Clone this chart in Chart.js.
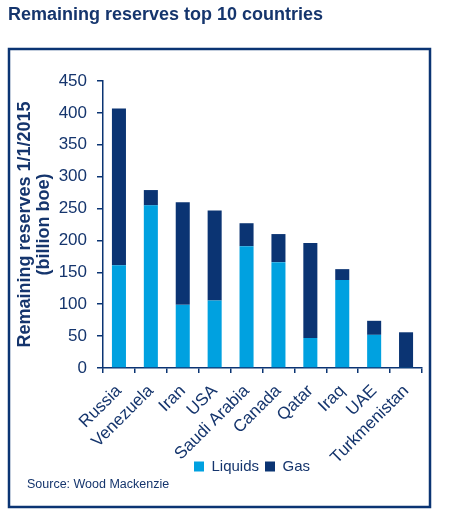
<!DOCTYPE html>
<html>
<head>
<meta charset="utf-8">
<script src="https://cdn.jsdelivr.net/npm/chart.js@4/dist/chart.umd.min.js"></script>
<style>
  body { margin: 0; background: #fff; }
  #wrap { width: 468px; height: 517px; }
</style>
</head>
<body>
<div id="wrap"><canvas id="barChart" width="468" height="517"></canvas></div>
<script>
var countries = ["Russia","Venezuela","Iran","USA","Saudi Arabia","Canada","Qatar","Iraq","UAE","Turkmenistan"];
var liquids = [161,255,99,106,191,166,47,138,52,1];
var gas = [246,24,161,141,36,44,149,17,22,55];
var yTicks = [0,50,100,150,200,250,300,350,400,450];

var navy = "#0b3473";
var textCol = "#15356d";

// frame, header text and source line
var framePlugin = {
  id: "frame",
  afterLayout: function(chart) {
    // legend sits right of centre and tucked under the labels in the original
    chart.legend.left += 37;
    chart.legend.right += 37;
    chart.legend.top -= 12;
    chart.legend.bottom -= 12;
  },
  afterDraw: function(chart) {
    var ctx = chart.ctx;
    ctx.save();
    ctx.fillStyle = textCol;
    ctx.font = "bold 18px 'Liberation Sans', Arial, sans-serif";
    ctx.textBaseline = "alphabetic";
    ctx.fillText("Remaining reserves top 10 countries", 8, 20);
    ctx.strokeStyle = navy;
    ctx.lineWidth = 2.5;
    ctx.strokeRect(9, 49, 421, 458);
    ctx.font = "12.5px 'Liberation Sans', Arial, sans-serif";
    ctx.fillStyle = textCol;
    ctx.fillText("Source: Wood Mackenzie", 27, 488);
    ctx.restore();
  }
};

var data = {
  labels: countries,
  datasets: [
    { label: "Liquids", data: liquids, backgroundColor: "#00a1e0", barPercentage: 0.44, categoryPercentage: 1 },
    { label: "Gas", data: gas, backgroundColor: navy, barPercentage: 0.44, categoryPercentage: 1 }
  ]
};

var option = {
  responsive: false,
  animation: false,
  layout: { padding: { top: 81, left: 8, right: 46, bottom: 21 } },
  plugins: {
    legend: {
      position: "bottom",
      labels: { boxWidth: 10, boxHeight: 10, padding: 6, color: textCol, font: { size: 15, family: "'Liberation Sans', Arial" } }
    },
    tooltip: { enabled: false }
  },
  scales: {
    x: {
      stacked: true,
      grid: { display: true, drawOnChartArea: false, drawTicks: true, tickLength: 5, color: navy, lineWidth: 1.5 },
      border: { display: true, color: navy, width: 1.5 },
      ticks: { color: textCol, autoSkip: false, minRotation: 45, maxRotation: 45, padding: 8, font: { size: 17, family: "'Liberation Sans', Arial" } },
      afterFit: function(scale) { scale.height = 97; }
    },
    y: {
      stacked: true,
      min: 0, max: 450,
      afterBuildTicks: function(scale) { scale.ticks = yTicks.map(function(v) { return { value: v }; }); },
      grid: { display: true, drawOnChartArea: false, drawTicks: true, tickLength: 6, color: navy, lineWidth: 1.5 },
      border: { display: true, color: navy, width: 1.5 },
      ticks: { color: textCol, padding: 10, font: { size: 17, family: "'Liberation Sans', Arial" } },
      title: {
        display: true,
        text: ["Remaining reserves 1/1/2015", "(billion boe)"],
        color: textCol,
        padding: { top: 8, bottom: 0 },
        font: { size: 18, weight: "bold", family: "'Liberation Sans', Arial", lineHeight: 1.05 }
      },
      afterFit: function(scale) { scale.width = 95; }
    }
  }
};

new Chart(document.getElementById("barChart"), {
  type: "bar",
  data: data,
  options: option,
  plugins: [framePlugin]
});
</script>
</body>
</html>
